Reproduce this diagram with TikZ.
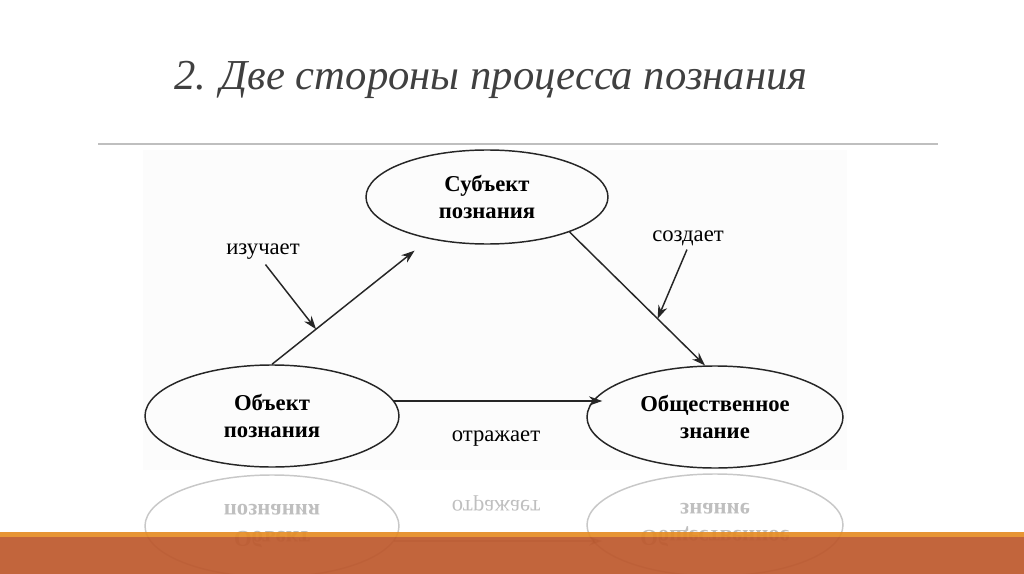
\documentclass[tikz,border=0pt]{standalone}
\usepackage{fontspec}
\setmainfont{Liberation Serif}
\usetikzlibrary{shapes.geometric, arrows.meta}

\definecolor{bandtop}{HTML}{E58C24}
\definecolor{band}{HTML}{BD582C}

\begin{document}
\begin{tikzpicture}[x=0.75pt, y=-0.75pt, >={Stealth[length=10pt, width=7pt]},
  idea/.style={draw=black!85, line width=1.1pt, ellipse, inner sep=0pt, align=center,
    font=\fontsize{17}{20}\selectfont\bfseries},
  verb/.style={font=\fontsize{17}{20}\selectfont, inner sep=1pt},
  link/.style={->, draw=black!85, line width=1.1pt}]
\useasboundingbox (0,0) rectangle (1024,574);
\fill[white] (0,0) rectangle (1024,574);

% title and rule
\node[anchor=base, text=black!75, font=\fontsize{32}{38}\selectfont\itshape] (title) at (491,90)
  {2. Две стороны процесса познания};
\draw[black!25, line width=1pt] (98,144) -- (938,144);

% diagram
\fill[black!1] (143,150) rectangle (847,470);
\node[idea, minimum width=181.5pt, minimum height=70.5pt] (subj) at (487,197) {Субъект\\познания};
\node[idea, minimum width=190.5pt, minimum height=76.5pt] (obj) at (272,416) {Объект\\познания};
\node[idea, minimum width=192pt, minimum height=76.5pt] (know) at (715,417) {Общественное\\знание};
\node[verb] (studies) at (263,252) {изучает};
\node[verb] (creates) at (688,238) {создает};
\node[verb] (reflects) at (496,439) {отражает};

\draw[link, shorten >=14pt] (obj.north) -- coordinate[pos=0.28] (mStudy) (subj.216);
\draw[link] (subj.337) -- coordinate[pos=0.65] (mCreate) (know.101);
\draw[link] (obj.7) -- ([xshift=12pt]know.west |- obj.7);
\draw[link, shorten <=3pt] (studies.south) -- (mStudy);
\draw[link, shorten <=2pt] (creates.south) -- (mCreate);

% reflection
\begin{scope}
\clip (143,470) rectangle (847,574);
\begin{scope}[shift={(0,942)}, yscale=-1, transform shape, opacity=0.25]
\node[idea, minimum width=190.5pt, minimum height=76.5pt] (objR) at (272,416) {Объект\\познания};
\node[idea, minimum width=192pt, minimum height=76.5pt] (knowR) at (715,417) {Общественное\\знание};
\node[verb] (reflectsR) at (496,439) {отражает};
\draw[link] (objR.7) -- ([xshift=12pt]knowR.west |- objR.7);
\end{scope}
\end{scope}

% bottom band
\fill[bandtop, opacity=0.92] (0,532) rectangle (1024,537);
\fill[band, opacity=0.92] (0,537) rectangle (1024,574);
\end{tikzpicture}
\end{document}
